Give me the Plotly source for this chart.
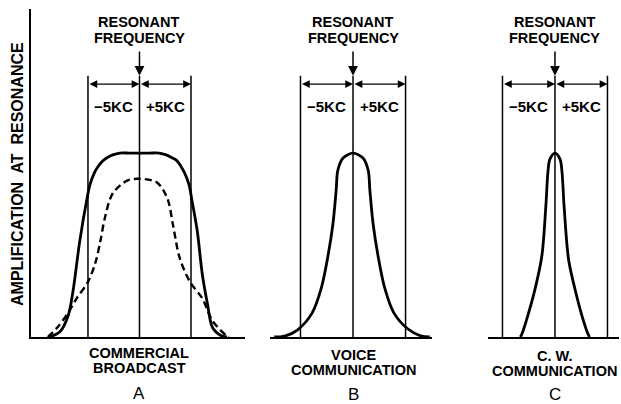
import plotly.graph_objects as go

# ---------------- data (kc offset from resonance, relative amplification) ----------------
guide_kc = [-5, 0, 5]            # vertical guide lines
guide_top = 1.42                 # height of guide lines
dim_level = 1.375                # height of the dimension arrows
arrow_from = 1.56                # start of the "resonant frequency" arrow
band_label_kc = [-2.5, 2.5]
band_labels = ["−5KC", "+5KC"]

a_solid_x = [-8.7, -7.7, -6.9, -6.45, -5.8, -5.1, -4.8, -4.4, -4.1, -3.6, -3.2, -2.6, -1.9, -1.0, 0,
             1.0, 1.9, 2.6, 3.2, 3.6, 4.0, 4.4, 4.8, 5.1, 5.6, 6.1, 6.6, 7.1, 8.0, 8.5]
a_solid_y = [0, 0.03, 0.12, 0.25, 0.52, 0.75, 0.83, 0.89, 0.92, 0.955, 0.973, 0.99, 1.0, 1.0, 1.0,
             1.0, 1.0, 0.99, 0.973, 0.96, 0.93, 0.89, 0.83, 0.74, 0.58, 0.34, 0.18, 0.05, 0.005, 0]

a_dash_x = [-8.9, -8.0, -7.0, -6.1, -5.0, -4.3, -3.8, -3.35, -2.6, -1.2, 0,
            1.7, 2.7, 3.25, 3.9, 4.9, 6.1, 7.1, 8.5, 8.7]
a_dash_y = [0, 0.05, 0.125, 0.21, 0.30, 0.40, 0.52, 0.65, 0.78, 0.85, 0.86,
            0.84, 0.755, 0.61, 0.43, 0.30, 0.21, 0.087, 0.005, 0]

b_x = [-7.5, -6.5, -5.3, -3.9, -3.0, -2.4, -1.9, -1.6, -1.45, -0.95, 0,
       0.95, 1.45, 1.6, 1.9, 2.4, 3.0, 3.9, 5.2, 6.5, 7.3]
b_y = [0, 0.005, 0.038, 0.13, 0.27, 0.435, 0.62, 0.80, 0.905, 0.973, 1.0,
       0.973, 0.905, 0.80, 0.62, 0.435, 0.27, 0.13, 0.045, 0.005, 0]

c_x = [-3.3, -3.15, -2.6, -1.9, -1.25, -0.87, -0.67, -0.48, 0,
       0.48, 0.67, 0.87, 1.3, 1.95, 2.6, 3.15, 3.3]
c_y = [0, 0.016, 0.114, 0.26, 0.44, 0.71, 0.897, 0.967, 1.0,
       0.967, 0.897, 0.71, 0.42, 0.25, 0.11, 0.016, 0]

caption_1 = ["COMMERCIAL", "VOICE", "C. W."]
caption_2 = ["BROADCAST", "COMMUNICATION", "COMMUNICATION"]
panel_letters = ["A", "B", "C"]
top_1 = "RESONANT"
top_2 = "FREQUENCY"
y_title = "AMPLIFICATION  AT  RESONANCE"

# ---------------- figure ----------------
FONT = "Liberation Sans"
fig = go.Figure()

panels = [
    ("x", "y", [(a_solid_x, a_solid_y, "solid"), (a_dash_x, a_dash_y, "dash")]),
    ("x2", "y2", [(b_x, b_y, "solid")]),
    ("x3", "y3", [(c_x, c_y, "solid")]),
]

for xa, ya, curves in panels:
    gx, gy = [], []
    for g in guide_kc:
        gx += [g, g, None]
        gy += [0, guide_top, None]
    fig.add_trace(go.Scatter(x=gx, y=gy, mode="lines", xaxis=xa, yaxis=ya,
                             line=dict(color="black", width=1.5), hoverinfo="skip"))
    for cx, cy, style in curves:
        if style == "dash":
            ln = dict(color="black", width=2.4, dash="7px,4px", shape="spline", smoothing=0.9)
        else:
            ln = dict(color="black", width=2.8, shape="spline", smoothing=0.9)
        fig.add_trace(go.Scatter(x=cx, y=cy, mode="lines", xaxis=xa, yaxis=ya,
                                 line=ln, hoverinfo="skip"))

ann = []
label_y = [(0.1262, 0.0891, 0.0272), (0.1213, 0.0842, 0.0223), (0.1188, 0.0817, 0.0223)]
for i, (xa, ya, _) in enumerate(panels):
    ann.append(dict(xref=xa, yref=ya, x=0, y=guide_top, axref=xa, ayref=ya, ax=0, ay=arrow_from,
                    showarrow=True, arrowhead=2, arrowsize=1.3, arrowwidth=1.5,
                    arrowcolor="black", text="", standoff=0, startstandoff=0))
    for (s, e) in [(guide_kc[0], guide_kc[1]), (guide_kc[1], guide_kc[2])]:
        ann.append(dict(xref=xa, yref=ya, x=e, y=dim_level, axref=xa, ayref=ya, ax=s, ay=dim_level,
                        showarrow=True, arrowhead=2, startarrowhead=2, arrowside="end+start",
                        arrowsize=1.3, startarrowsize=1.3, arrowwidth=1.2,
                        arrowcolor="black", text="", standoff=0, startstandoff=0))
    for bx, bl in zip(band_label_kc, band_labels):
        ann.append(dict(xref=xa, yref=ya, x=bx, y=1.255, text=bl, showarrow=False,
                        font=dict(family=FONT, size=15, color="black", weight="bold"),
                        xanchor="center", yanchor="middle"))
    ann.append(dict(xref=xa, yref="paper", x=0, y=(404 - 21.5) / 404, text=top_1, showarrow=False,
                    font=dict(family=FONT, size=14.5, color="black", weight="bold"),
                    xanchor="center", yanchor="middle"))
    ann.append(dict(xref=xa, yref="paper", x=0, y=(404 - 38) / 404, text=top_2, showarrow=False,
                    font=dict(family=FONT, size=14.5, color="black", weight="bold"),
                    xanchor="center", yanchor="middle"))
    l1, l2, l3 = label_y[i]
    ann.append(dict(xref=xa, yref="paper", x=0, y=l1, text=caption_1[i], showarrow=False,
                    font=dict(family=FONT, size=14.5, color="black", weight="bold"),
                    xanchor="center", yanchor="middle"))
    ann.append(dict(xref=xa, yref="paper", x=0, y=l2, text=caption_2[i], showarrow=False,
                    font=dict(family=FONT, size=14.5, color="black", weight="bold"),
                    xanchor="center", yanchor="middle"))
    ann.append(dict(xref=xa, yref="paper", x=0, y=l3, text=panel_letters[i], showarrow=False,
                    font=dict(family=FONT, size=17, color="black"),
                    xanchor="center", yanchor="middle"))

ann.append(dict(xref="paper", yref="paper", x=17 / 621, y=(404 - 174) / 404, text=y_title,
                showarrow=False, textangle=-90,
                font=dict(family=FONT, size=16, color="black", weight="bold"),
                xanchor="center", yanchor="middle"))

ydom = [0.1658, 0.9777]
yrange = [0, 1.783]
common_x = dict(showline=True, linewidth=2, linecolor="black", showgrid=False, zeroline=False,
                showticklabels=False, ticks="", fixedrange=True)
common_y = dict(showgrid=False, zeroline=False, showticklabels=False, ticks="",
                domain=ydom, range=yrange, fixedrange=True)

fig.update_layout(
    width=621, height=404,
    margin=dict(l=0, r=0, t=0, b=0),
    paper_bgcolor="white", plot_bgcolor="white",
    showlegend=False,
    xaxis=dict(domain=[0.0499, 0.3945], range=[-10.53, 10.24], anchor="y", **common_x),
    yaxis=dict(anchor="x", showline=True, linewidth=2, linecolor="black", **common_y),
    xaxis2=dict(domain=[0.4348, 0.6957], range=[-7.9, 7.52], anchor="y2", **common_x),
    yaxis2=dict(anchor="x2", showline=False, **common_y),
    xaxis3=dict(domain=[0.7858, 0.9968], range=[-6.38, 6.1], anchor="y3", **common_x),
    yaxis3=dict(anchor="x3", showline=False, **common_y),
    annotations=ann,
)

fig.write_html("out.html", config={"displayModeBar": False},
               post_script="document.body.style.margin='0';document.body.style.overflow='hidden';")
